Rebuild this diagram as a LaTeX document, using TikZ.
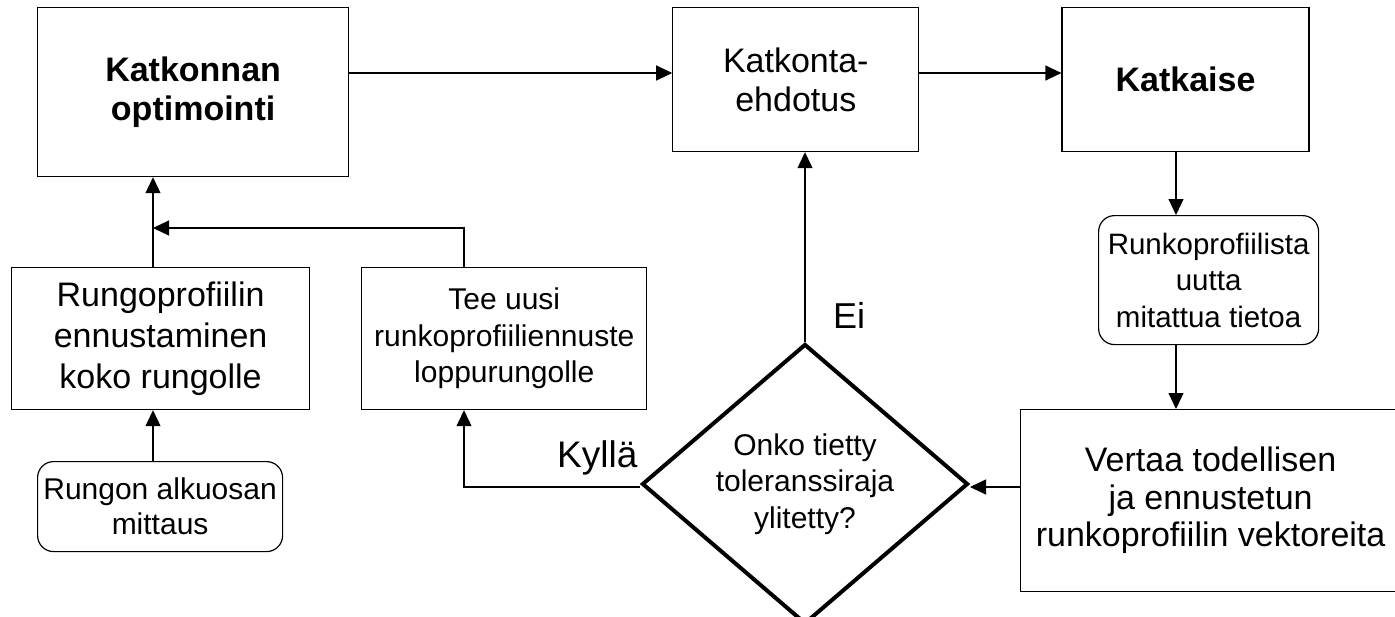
\documentclass[tikz,border=0pt]{standalone}
\usepackage{fontspec}
\setmainfont{Liberation Sans}
\usetikzlibrary{positioning,shapes.geometric,arrows.meta}

\begin{document}
\begin{tikzpicture}[
		x=1pt, y=-1pt,
		every node/.style={align=center, inner sep=0pt},
		box/.style={draw, line width=1.2pt, fill=white},
		rbox/.style={box, rounded corners=16pt},
		big/.style={font=\fontsize{34}{39}\selectfont},
		bold/.style={font=\fontsize{34}{39}\selectfont\bfseries},
		small/.style={font=\fontsize{30}{36.5}\selectfont},
		arr/.style={line width=1.2pt, -{Triangle[length=16pt,width=15pt]}},
	]
		\useasboundingbox (0,0) rectangle (1395,616);

		\node [box, bold, minimum width=311pt, minimum height=169pt, anchor=north west] (opt) at (37,7) {Katkonnan\\optimointi};
		\node [box, big, minimum width=246pt, minimum height=144pt, right=323pt of opt.north east, anchor=north west] (ehd) {Katkonta-\\ehdotus};
		\node [box, bold, minimum width=247pt, minimum height=144pt, right=142pt of ehd] (katk) {Katkaise};
		\node [rbox, font=\fontsize{29.5}{36.5}\selectfont, minimum width=220pt, minimum height=129pt, anchor=north west] (uusi) at (1098,215) {Runkoprofiilista\\uutta\\mitattua tietoa};
		\node [box, font=\fontsize{34}{37.5}\selectfont, minimum width=380pt, minimum height=182pt, anchor=north west] (vert) at (1020,409) {Vertaa todellisen\\ja ennustetun\\runkoprofiilin vektoreita};
		\node [draw, diamond, line width=4pt, fill=white, small, minimum width=326pt, minimum height=280pt, aspect=1.16] (tol) at (805,484) {Onko tietty\\toleranssiraja\\ylitetty?};
		\node [box, font=\fontsize{34}{41}\selectfont, minimum width=298pt, minimum height=142pt, anchor=north west] (enn) at (11,267) {Rungoprofiilin\\ennustaminen\\koko rungolle};
		\node [box, small, minimum width=285pt, minimum height=142pt, right=51pt of enn] (tee) {Tee uusi\\runkoprofiiliennuste\\loppurungolle};
		\node [rbox, font=\fontsize{30}{35}\selectfont, minimum width=245pt, minimum height=90pt, anchor=north west] (alku) at (37,461) {Rungon alkuosan\\mittaus};
		\node [font=\fontsize{36}{40}\selectfont, anchor=base west] (ei) at (833,328) {Ei};
		\node [font=\fontsize{37}{40}\selectfont, anchor=base west] (kylla) at (557,467) {Kyllä};

		\coordinate (row) at (0,73);
		\coordinate (yes) at (464,487);
		\coordinate (join) at (153,228);
		\coordinate (cut) at (1176,0);

		\draw [arr] (opt.east |- row) -- (ehd.west |- row);
		\draw [arr] (ehd.east |- row) -- (katk.west |- row);
		\draw [arr] (katk.south -| cut) -- (uusi.north -| cut);
		\draw [arr] (uusi.south -| cut) -- (vert.north -| cut);
		\draw [arr] (vert.west |- yes) -- (tol.east |- yes);
		\draw [arr] (tol.west |- yes) -| (tee.south -| yes);
		\draw [arr] (tol.north) -- (tol.north |- ehd.south);
		\draw [arr] (tee.north -| yes) |- (join);
		\draw [arr] (enn.north -| join) -- (opt.south -| join);
		\draw [arr] (alku.north -| join) -- (enn.south -| join);
	\end{tikzpicture}
\end{document}
